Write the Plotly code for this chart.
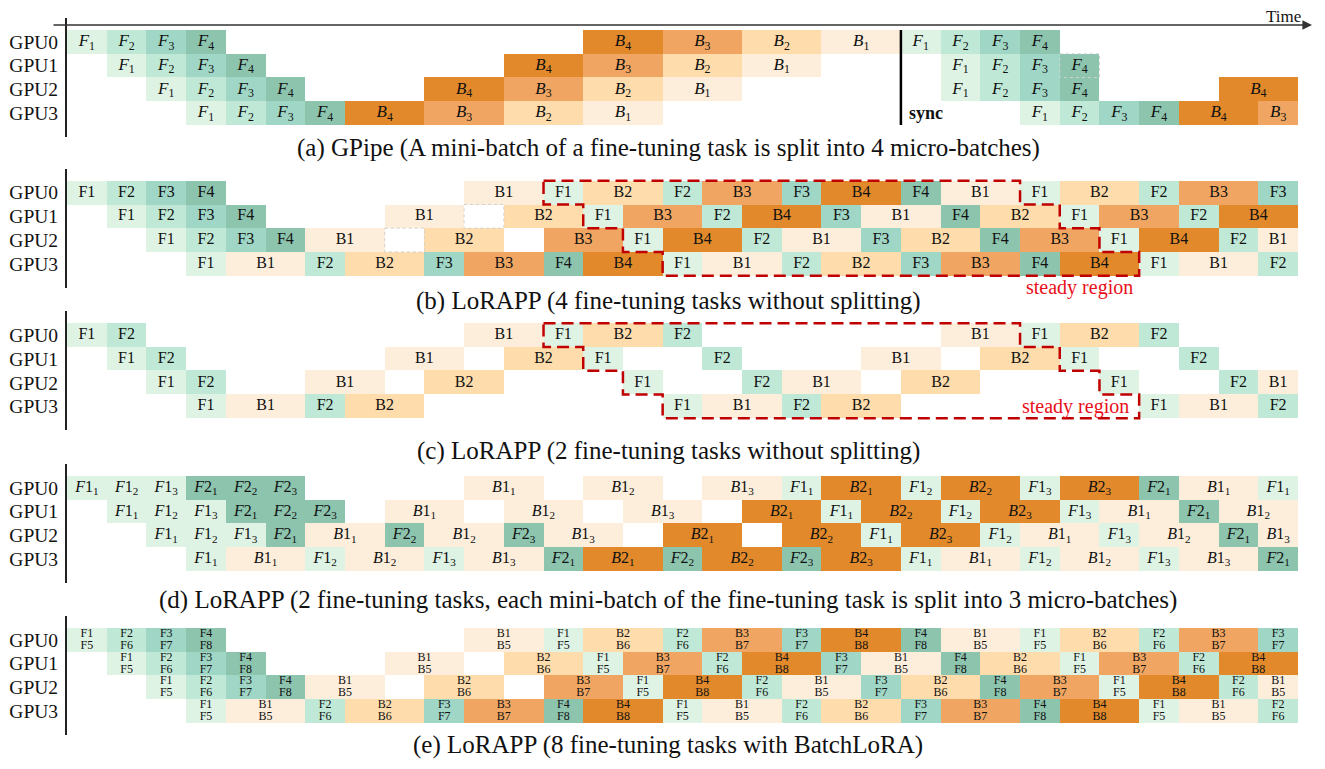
import plotly.graph_objects as go

# ---------------- data ----------------
GPUS = ["GPU0", "GPU1", "GPU2", "GPU3"]

# "_" = idle slot, "~" = idle slot with dashed outline, "~X" = cell X with dashed outline
A_ROWS = [
    "F1 F2 F3 F4 _ _ _ _ _ _ _ _ _ B4 B3 B2 B1 F1 F2 F3 F4",
    "_ F1 F2 F3 F4 _ _ _ _ _ _ B4 B3 B2 B1 _ _ _ F1 F2 F3 ~F4",
    "_ _ F1 F2 F3 F4 _ _ _ B4 B3 B2 B1 _ _ _ _ _ F1 F2 F3 F4 _ _ _ B4",
    "_ _ _ F1 F2 F3 F4 B4 B3 B2 B1 _ _ _ _ _ _ _ _ _ F1 F2 F3 F4 B4 B3",
]
B_ROWS = [
    "F1 F2 F3 F4 _ _ _ _ _ _ B1 F1 B2 F2 B3 F3 B4 F4 B1 F1 B2 F2 B3 F3",
    "_ F1 F2 F3 F4 _ _ _ B1 ~ B2 F1 B3 F2 B4 F3 B1 F4 B2 F1 B3 F2 B4",
    "_ _ F1 F2 F3 F4 B1 ~ B2 _ B3 F1 B4 F2 B1 F3 B2 F4 B3 F1 B4 F2 B1",
    "_ _ _ F1 B1 F2 B2 F3 B3 F4 B4 F1 B1 F2 B2 F3 B3 F4 B4 F1 B1 F2",
]
C_ROWS = [
    "F1 F2 _ _ _ _ _ _ _ _ B1 F1 B2 F2 _ _ _ _ _ _ B1 F1 B2 F2",
    "_ F1 F2 _ _ _ _ _ B1 _ B2 F1 _ _ F2 _ _ _ B1 _ B2 F1 _ _ F2",
    "_ _ F1 F2 _ _ B1 _ B2 _ _ _ F1 _ _ F2 B1 _ B2 _ _ _ F1 _ _ F2 B1",
    "_ _ _ F1 B1 F2 B2 _ _ _ _ _ _ F1 B1 F2 B2 _ _ _ _ _ _ F1 B1 F2",
]
D_ROWS = [
    "F1_1 F1_2 F1_3 F2_1 F2_2 F2_3 _ _ _ _ B1_1 _ B1_2 _ B1_3 F1_1 B2_1 F1_2 B2_2 F1_3 B2_3 F2_1 B1_1 F1_1",
    "_ F1_1 F1_2 F1_3 F2_1 F2_2 F2_3 _ B1_1 _ B1_2 _ B1_3 _ B2_1 F1_1 B2_2 F1_2 B2_3 F1_3 B1_1 F2_1 B1_2",
    "_ _ F1_1 F1_2 F1_3 F2_1 B1_1 F2_2 B1_2 F2_3 B1_3 _ B2_1 _ B2_2 F1_1 B2_3 F1_2 B1_1 F1_3 B1_2 F2_1 B1_3",
    "_ _ _ F1_1 B1_1 F1_2 B1_2 F1_3 B1_3 F2_1 B2_1 F2_2 B2_2 F2_3 B2_3 F1_1 B1_1 F1_2 B1_2 F1_3 B1_3 F2_1",
]
E_ROWS = [
    "F1 F2 F3 F4 _ _ _ _ _ _ B1 F1 B2 F2 B3 F3 B4 F4 B1 F1 B2 F2 B3 F3",
    "_ F1 F2 F3 F4 _ _ _ B1 _ B2 F1 B3 F2 B4 F3 B1 F4 B2 F1 B3 F2 B4",
    "_ _ F1 F2 F3 F4 B1 _ B2 _ B3 F1 B4 F2 B1 F3 B2 F4 B3 F1 B4 F2 B1",
    "_ _ _ F1 B1 F2 B2 F3 B3 F4 B4 F1 B1 F2 B2 F3 B3 F4 B4 F1 B1 F2",
]
E_PAIR_OFFSET = 4          # task k is batched with task k+4
TIME_END = 31              # visible time window (slots)
SYNC_AT = 21               # GPipe sync point
STEADY_START = 12          # steady region start (slot)
STEADY_LEN = 12            # steady region length on GPU0

CAPTIONS = [
    "(a) GPipe (A mini-batch of a fine-tuning task is split into 4 micro-batches)",
    "(b) LoRAPP (4 fine-tuning tasks without splitting)",
    "(c) LoRAPP (2 fine-tuning tasks without splitting)",
    "(d) LoRAPP (2 fine-tuning tasks, each mini-batch of the fine-tuning task is split into 3 micro-batches)",
    "(e) LoRAPP (8 fine-tuning tasks with BatchLoRA)",
]

# ---------------- styles ----------------
COLORS = {"F1": "#dff3e5", "F2": "#bfe9d6", "F3": "#9fd6c5", "F4": "#8cc4ae",
          "B1": "#fdeedc", "B2": "#fedcab", "B3": "#f0a662", "B4": "#e28a2b"}
D_SHADE = {"F1": "F1", "F2": "F4", "B1": "B1", "B2": "B4"}
W, H = 1325, 769
OFF = 8                      # page body margin in the browser
X0_PX, UNIT_PX, ROW_PX = 67, 39.71, 23.75
PANEL_TOP_PX = [30, 180.7, 323.3, 476, 628]
CAPTION_Y_PX = [148, 301, 451, 600, 745]
SERIF = "Liberation Serif, Times New Roman, serif"
RED = "#c00000"


def fx(px):
    return (px - OFF) / W


def fy(px):
    return 1 - (px - OFF) / H


fig = go.Figure()


def parse(row):
    t, cells = 0, []
    for tok in row.split():
        ghost = tok.startswith("~")
        name = tok.lstrip("~")
        if name in ("", "_"):
            name, dur = None, 1
        else:
            dur = 2 if name[0] == "B" else 1
        cells.append((t, dur, name, ghost))
        t += dur
    return cells


def fmt_label(panel, name):
    if panel == 0:
        return f"<i>{name[0]}</i><sub>{name[1:]}</sub>"
    if panel == 3:
        task, mb = name[1:].split("_")
        return f"<i>{name[0]}</i>{task}<sub>{mb}</sub>"
    return name


def color_of(panel, name):
    if panel == 3:
        return COLORS[D_SHADE[name[:2]]]
    return COLORS[name[:2]]


panels = [A_ROWS, B_ROWS, C_ROWS, D_ROWS, E_ROWS]
for p, rows in enumerate(panels):
    xa = "x" if p == 0 else f"x{p+1}"
    ya = "y" if p == 0 else f"y{p+1}"
    bx, by, bw, bc = [], [], [], []
    tx, ty, tt = [], [], []
    tx2, ty2, tt2 = [], [], []
    ghosts = []
    for g, row in enumerate(rows):
        for start, dur, name, ghost in parse(row):
            if start >= TIME_END:
                continue
            vis = min(start + dur, TIME_END) - start
            if ghost:
                ghosts.append((start, vis, g))
            if name is None:
                continue
            bx.append(vis); by.append(g); bw.append(start); bc.append(color_of(p, name))
            cx = start + vis / 2
            if p == 4:
                tx.append(cx); ty.append(g - 0.25); tt.append(name)
                tx2.append(cx); ty2.append(g + 0.25)
                tt2.append(name[0] + str(int(name[1:]) + E_PAIR_OFFSET))
            else:
                tx.append(cx); ty.append(g); tt.append(fmt_label(p, name))
    fig.add_trace(go.Bar(orientation="h", x=bx, y=by, base=bw, width=1.0,
                         marker=dict(color=bc, line=dict(width=0)),
                         xaxis=xa, yaxis=ya, showlegend=False, hoverinfo="skip"))
    fsize = {0: 17, 4: 12}.get(p, 16)
    fig.add_trace(go.Scatter(x=tx, y=ty, text=tt, mode="text",
                             textfont=dict(family=SERIF, size=fsize, color="#111"),
                             xaxis=xa, yaxis=ya, showlegend=False, hoverinfo="skip"))
    if p == 4:
        fig.add_trace(go.Scatter(x=tx2, y=ty2, text=tt2, mode="text",
                                 textfont=dict(family=SERIF, size=fsize, color="#111"),
                                 xaxis=xa, yaxis=ya, showlegend=False, hoverinfo="skip"))
    for (s, w, g) in ghosts:
        fig.add_trace(go.Scatter(x=[s, s + w, s + w, s, s], y=[g - 0.5, g - 0.5, g + 0.5, g + 0.5, g - 0.5],
                                 mode="lines", line=dict(color="#d0d0d0", width=1, dash="dot"),
                                 xaxis=xa, yaxis=ya, showlegend=False, hoverinfo="skip"))

    # steady region outline for (b) and (c)
    if p in (1, 2):
        s, L = STEADY_START, STEADY_LEN
        px, py = [s, s + L], [-0.5, -0.5]
        for g in range(4):
            px.append(s + L + g); py.append(g + 0.5)
            if g < 3:
                px.append(s + L + g + 1); py.append(g + 0.5)
        for g in range(3, -1, -1):
            px.append(s + g); py.append(g + 0.5)
            px.append(s + g); py.append(g - 0.5)
        fig.add_trace(go.Scatter(x=px, y=py, mode="lines",
                                 line=dict(color=RED, width=2.5, dash="12px,6px"),
                                 xaxis=xa, yaxis=ya, showlegend=False, hoverinfo="skip"))

    # axes
    top = PANEL_TOP_PX[p]
    y_top_px = top - ROW_PX / 2
    y_bot_px = top + 4.5 * ROW_PX
    rng_end = (W - (X0_PX - OFF)) / UNIT_PX
    xkey = "xaxis" if p == 0 else f"xaxis{p+1}"
    ykey = "yaxis" if p == 0 else f"yaxis{p+1}"
    fig.update_layout(**{
        xkey: dict(domain=[fx(X0_PX), 1], range=[0, rng_end], visible=False,
                   anchor=ya, fixedrange=True, automargin=False),
        ykey: dict(domain=[fy(y_bot_px), fy(y_top_px)], range=[4, -1],
                   tickvals=[0, 1, 2, 3], ticktext=GPUS, ticks="",
                   tickfont=dict(family=SERIF, size=19.5, color="#111"),
                   showline=True, linecolor="#222", linewidth=2, mirror=False,
                   showgrid=False, zeroline=False, anchor=xa, fixedrange=True,
                   ticklabelstandoff=3, automargin=False),
    })
    fig.add_annotation(text=CAPTIONS[p], x=fx(668), y=fy(CAPTION_Y_PX[p]),
                       xref="paper", yref="paper", showarrow=False,
                       font=dict(family=SERIF, size=25, color="#111"),
                       xanchor="center", yanchor="middle")

# sync line in (a)
fig.add_trace(go.Scatter(x=[SYNC_AT, SYNC_AT], y=[-0.5, 3.5], mode="lines",
                         line=dict(color="#000", width=2.5), xaxis="x", yaxis="y",
                         showlegend=False, hoverinfo="skip"))
fig.add_annotation(text="<b>sync</b>", x=SYNC_AT + 0.15, y=3.0, xref="x", yref="y",
                   showarrow=False, xanchor="left", yanchor="middle",
                   font=dict(family=SERIF, size=18, color="#111"))

# steady region labels
fig.add_annotation(text="steady region", x=STEADY_START + STEADY_LEN + 1.5, y=4.0,
                   xref="x2", yref="y2", showarrow=False, xanchor="center", yanchor="middle",
                   font=dict(family=SERIF, size=20, color="#e8101a"))
fig.add_annotation(text="steady region", x=STEADY_START + STEADY_LEN + 1.4, y=3.0,
                   xref="x3", yref="y3", showarrow=False, xanchor="center", yanchor="middle",
                   font=dict(family=SERIF, size=20, color="#e8101a"))

# time arrow
fig.add_annotation(x=fx(1312), y=fy(25), xref="paper", yref="paper",
                   ax=-(1312 - 52), ay=0, axref="pixel", ayref="pixel",
                   text="", showarrow=True, arrowhead=2, arrowsize=1.2,
                   arrowwidth=1.6, arrowcolor="#333")
fig.add_annotation(text="Time", x=fx(1283), y=fy(16.5), xref="paper", yref="paper",
                   showarrow=False, xanchor="center", yanchor="middle",
                   font=dict(family=SERIF, size=17, color="#111"))

fig.update_layout(width=W, height=H, margin=dict(l=0, r=0, t=0, b=0, autoexpand=False),
                  paper_bgcolor="white", plot_bgcolor="rgba(0,0,0,0)",
                  barmode="overlay", bargap=0, showlegend=False)

fig.write_html("out.html")
